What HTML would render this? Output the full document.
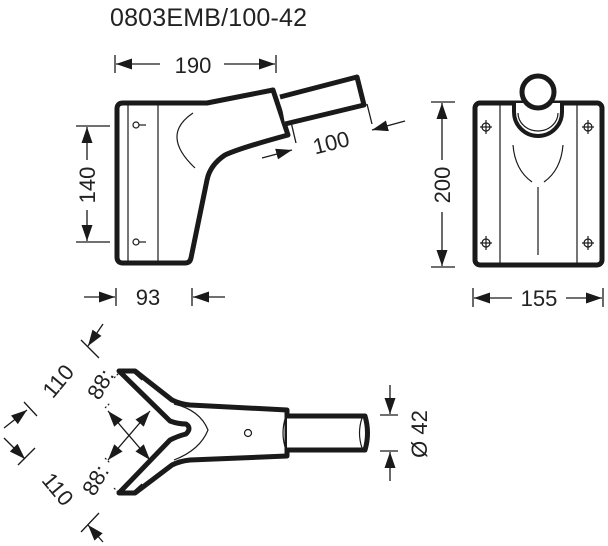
<!DOCTYPE html>
<html><head><style>html,body{margin:0;padding:0;background:#fff}svg{display:block}</style></head>
<body>
<svg width="608" height="546" viewBox="0 0 608 546" xmlns="http://www.w3.org/2000/svg" font-family="Liberation Sans, sans-serif" fill="none" stroke="#1a1a1a">
<defs>
<marker id="a" viewBox="0 0 16 11" refX="16" refY="5.5" markerWidth="16" markerHeight="11" markerUnits="userSpaceOnUse" orient="auto"><path d="M0,0 L16,5.5 L0,11 Z" fill="#1a1a1a" stroke="none"/></marker>
<marker id="b" viewBox="0 0 16 11" refX="0" refY="5.5" markerWidth="16" markerHeight="11" markerUnits="userSpaceOnUse" orient="auto"><path d="M16,0 L0,5.5 L16,11 Z" fill="#1a1a1a" stroke="none"/></marker>
</defs>
<text x="110" y="26" font-size="25" fill="#222" stroke="none" textLength="197">0803EMB/100-42</text>

<!-- side view -->
<g stroke-width="5" stroke-linejoin="round">
<path d="M123,103 L207,103 L273,90 L288,135 Q240,148 225,155 Q210,165 207,180 L191,258 Q190,263 185,263 L123,263 Q117,263 117,257 L117,109 Q117,103 123,103 Z" fill="#fff"/>
<path d="M280,97 L357,77 L364,105 L285,124" fill="#fff"/>
</g>
<g stroke-width="1.2">
<line x1="128" y1="104" x2="128" y2="262"/><line x1="158" y1="104" x2="158" y2="262"/>
<circle cx="136" cy="125" r="3"/><circle cx="136" cy="242" r="3"/>
<line x1="139" y1="125" x2="146" y2="125"/><line x1="139" y1="242" x2="146" y2="242"/>
<path d="M193,113 Q160,135 195,168"/>
</g>
<g stroke-width="1.3">
<line x1="115" y1="55" x2="115" y2="73"/><line x1="276" y1="55" x2="276" y2="73"/>
<line x1="160" y1="64" x2="116" y2="64" marker-end="url(#a)"/><line x1="224" y1="64" x2="275" y2="64" marker-end="url(#a)"/>
<line x1="76" y1="126" x2="110" y2="126"/><line x1="76" y1="242" x2="110" y2="242"/>
<line x1="87" y1="160" x2="87" y2="127" marker-end="url(#a)"/><line x1="87" y1="210" x2="87" y2="241" marker-end="url(#a)"/>
<line x1="116" y1="288" x2="116" y2="306"/><line x1="192" y1="288" x2="192" y2="306"/>
<line x1="84" y1="297" x2="115" y2="297" marker-end="url(#a)"/><line x1="225" y1="297" x2="193" y2="297" marker-end="url(#a)"/>
<line x1="296" y1="143" x2="291" y2="122"/><line x1="372" y1="124" x2="367" y2="104"/>
<line x1="262" y1="158" x2="292" y2="150" marker-end="url(#a)"/><line x1="405" y1="121" x2="372" y2="130" marker-end="url(#a)"/>
</g>
<g fill="#222" stroke="none" font-size="22">
<text x="193" y="73" text-anchor="middle">190</text>
<text transform="translate(95,185) rotate(-90)" text-anchor="middle">140</text>
<text x="148" y="305" text-anchor="middle">93</text>
<text transform="translate(333,150) rotate(-14)" text-anchor="middle">100</text>
</g>

<!-- front view -->
<rect x="475" y="103" width="127" height="162" rx="5" stroke-width="5" fill="#fff"/>
<g stroke-width="1.2">
<line x1="500" y1="105" x2="500" y2="263"/><line x1="577" y1="105" x2="577" y2="263"/>
<path d="M513,145 Q515,170 532,182"/><path d="M563,145 Q561,170 544,182"/>
<line x1="538" y1="187" x2="538" y2="255"/>
<g><circle cx="486" cy="127" r="4"/><line x1="480" y1="127" x2="492" y2="127"/><line x1="486" y1="120" x2="486" y2="134"/></g>
<g><circle cx="588" cy="127" r="4"/><line x1="582" y1="127" x2="594" y2="127"/><line x1="588" y1="120" x2="588" y2="134"/></g>
<g><circle cx="486" cy="243" r="4"/><line x1="480" y1="243" x2="492" y2="243"/><line x1="486" y1="236" x2="486" y2="250"/></g>
<g><circle cx="588" cy="243" r="4"/><line x1="582" y1="243" x2="594" y2="243"/><line x1="588" y1="236" x2="588" y2="250"/></g>
</g>
<path d="M514,103 L514,112 A24,24 0 0 0 562,112 L562,103" stroke-width="4" fill="#fff"/>
<path d="M518,113 A20,18 0 0 0 558,113" stroke-width="1.2"/>
<circle cx="538" cy="92" r="16" stroke-width="5" fill="#fff"/>
<g stroke-width="1.3">
<line x1="431" y1="102" x2="455" y2="102"/><line x1="431" y1="267" x2="455" y2="267"/>
<line x1="442" y1="160" x2="442" y2="103" marker-end="url(#a)"/><line x1="442" y1="212" x2="442" y2="266" marker-end="url(#a)"/>
<line x1="473" y1="288" x2="473" y2="307"/><line x1="603" y1="288" x2="603" y2="307"/>
<line x1="512" y1="298" x2="474" y2="298" marker-end="url(#a)"/><line x1="566" y1="298" x2="602" y2="298" marker-end="url(#a)"/>
</g>
<g fill="#222" stroke="none" font-size="22">
<text transform="translate(450,185) rotate(-90)" text-anchor="middle">200</text>
<text x="539" y="306" text-anchor="middle">155</text>
</g>

<!-- bottom view -->
<g stroke-width="5" stroke-linejoin="round" fill="#fff">
<path d="M119,371 L135,371 L172,400 Q180,404 190,405 L287,410 L287,456 L190,460 Q180,461 172,465 L135,493 L119,493 L170,440 Q178,436 186,434 Q192,428 186,424 Q178,424 170,421 Z"/>
<path d="M287,416 L365,416 Q370,433 365,450 L287,450"/>
</g>
<g stroke-width="1.2">
<path d="M174,404 Q200,410 208,430 Q200,450 174,460"/>
<path d="M286,416 Q280,433 286,450"/>
<path d="M362,418 Q357,433 362,448"/>
<circle cx="248" cy="433" r="3.5"/>
<line x1="132" y1="371" x2="142" y2="380"/><line x1="132" y1="493" x2="142" y2="484"/>
<line x1="114" y1="378" x2="119" y2="373" stroke-dasharray="2,2"/><line x1="105" y1="408" x2="110" y2="403" stroke-dasharray="2,2"/>
<line x1="105" y1="458" x2="110" y2="463" stroke-dasharray="2,2"/><line x1="114" y1="488" x2="119" y2="493" stroke-dasharray="2,2"/>
</g>
<g stroke-width="1.3">
<line x1="108" y1="411" x2="150" y2="460" marker-start="url(#b)" marker-end="url(#a)"/>
<line x1="150" y1="411" x2="108" y2="460" marker-start="url(#b)" marker-end="url(#a)"/>
<line x1="81" y1="340" x2="99" y2="358"/><line x1="24" y1="402" x2="37" y2="416"/>
<line x1="18" y1="465" x2="35" y2="448"/><line x1="81" y1="532" x2="99" y2="513"/>
<line x1="103" y1="324" x2="88" y2="346" marker-end="url(#a)"/><line x1="4" y1="428" x2="27" y2="410" marker-end="url(#a)"/>
<line x1="4" y1="438" x2="25" y2="459" marker-end="url(#a)"/><line x1="103" y1="542" x2="88" y2="525" marker-end="url(#a)"/>
<line x1="380" y1="415" x2="398" y2="415"/><line x1="380" y1="451" x2="398" y2="451"/>
<line x1="390" y1="385" x2="390" y2="414" marker-end="url(#a)"/><line x1="390" y1="481" x2="390" y2="452" marker-end="url(#a)"/>
</g>
<g fill="#222" stroke="none" font-size="22">
<text transform="translate(64,386) rotate(-50)" text-anchor="middle">110</text>
<text transform="translate(52,494) rotate(50)" text-anchor="middle">110</text>
<text transform="translate(107,388) rotate(-60)" text-anchor="middle">88:</text>
<text transform="translate(102,484) rotate(-60)" text-anchor="middle">88:</text>
<text transform="translate(427,434) rotate(-90)" text-anchor="middle">Ø 42</text>
</g>
</svg>
</body></html>
